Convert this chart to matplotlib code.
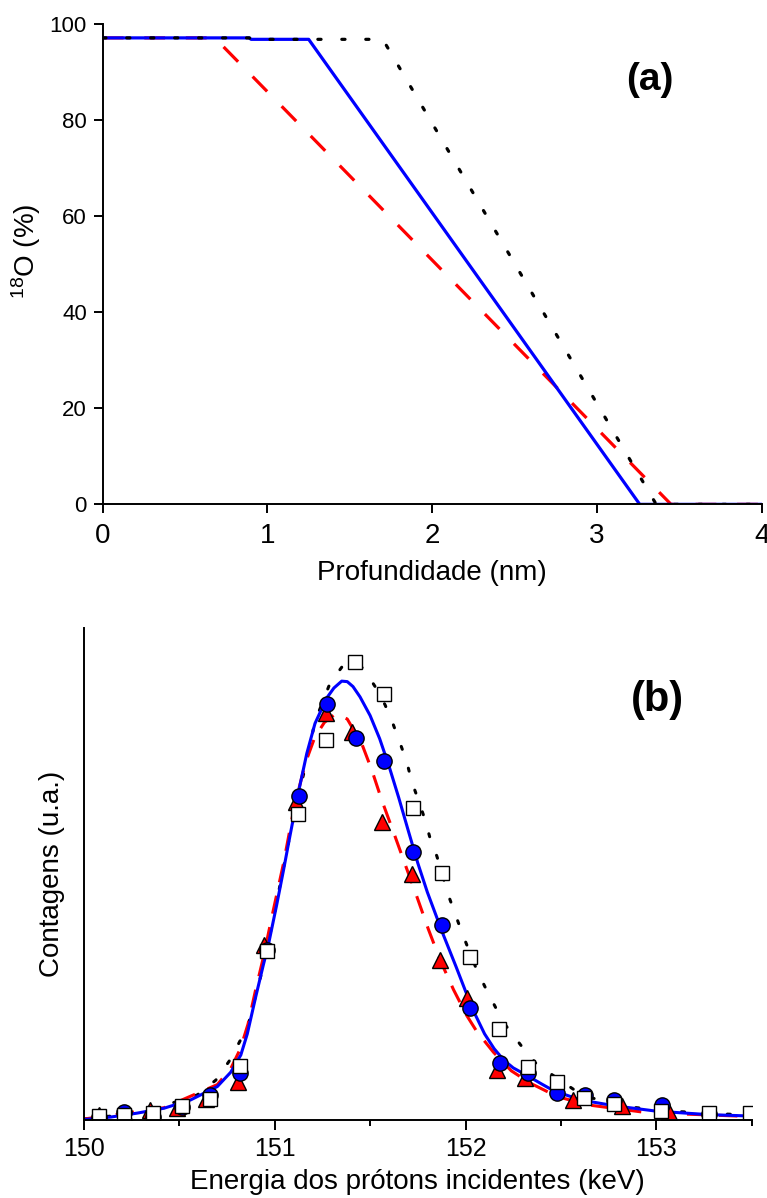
import matplotlib
matplotlib.use("Agg")
import matplotlib.pyplot as plt
from matplotlib.ticker import MultipleLocator, NullLocator

plt.rcParams['font.family'] = ['Liberation Sans', 'DejaVu Sans']
plt.rcParams['mathtext.fontset'] = 'custom'
plt.rcParams['mathtext.rm'] = 'Liberation Sans'

# ---- panel (a): 18O profiles ----
depth_solid = [0, 0.89, 0.90, 1.25, 3.26, 4.0]
o18_solid = [97.1, 97.1, 96.8, 96.8, 0, 0]

depth_dot = [0, 0.89, 0.90, 1.70, 3.36, 4.0]
o18_dot = [97.1, 97.1, 96.8, 96.8, 0, 0]

depth_dash = [0, 0.68, 3.45, 4.0]
o18_dash = [97.1, 97.1, 0, 0]

# ---- panel (b): excitation curves ----
fit_solid_x = [150.000, 150.140, 150.279, 150.420, 150.560, 150.699, 150.769, 150.822,
               150.856, 150.900, 150.940, 150.966, 151.010, 151.045, 151.080, 151.124,
               151.168, 151.211, 151.273, 151.310, 151.351, 151.380, 151.410, 151.447,
               151.500, 151.550, 151.600, 151.650, 151.700, 151.750, 151.800, 151.880,
               151.950, 152.000, 152.050, 152.100, 152.150, 152.200, 152.250, 152.320,
               152.400, 152.460, 152.600, 152.780, 153.000, 153.270, 153.500]
fit_solid_y = [0.001, 0.006, 0.014, 0.024, 0.041, 0.068, 0.097, 0.132,
               0.175, 0.250, 0.315, 0.355, 0.437, 0.506, 0.578, 0.666,
               0.745, 0.806, 0.858, 0.878, 0.892, 0.891, 0.881, 0.860,
               0.822, 0.775, 0.718, 0.655, 0.588, 0.522, 0.463, 0.380,
               0.312, 0.262, 0.215, 0.175, 0.145, 0.122, 0.106, 0.091,
               0.073, 0.060, 0.041, 0.029, 0.018, 0.011, 0.008]

fit_dash_x = [150.000, 150.420, 150.699, 150.770, 150.820, 150.860, 150.900, 150.940,
              150.990, 151.045, 151.100, 151.160, 151.210, 151.260, 151.320, 151.380,
              151.456, 151.509, 151.561, 151.631, 151.683, 151.745, 151.805, 151.867,
              151.937, 152.007, 152.059, 152.146, 152.240, 152.339, 152.479, 152.636,
              152.951, 153.500]
fit_dash_y = [0.002, 0.025, 0.072, 0.105, 0.145, 0.195, 0.265, 0.330,
              0.422, 0.520, 0.632, 0.725, 0.778, 0.808, 0.826, 0.815,
              0.765, 0.711, 0.650, 0.576, 0.520, 0.454, 0.388, 0.325,
              0.265, 0.212, 0.180, 0.138, 0.100, 0.075, 0.048, 0.031,
              0.015, 0.007]

fit_dot_x = [150.000, 150.306, 150.594, 150.691, 150.760, 150.813, 150.861, 150.887,
             150.913, 150.939, 151.002, 151.080, 151.124, 151.168, 151.211, 151.290,
             151.360, 151.410, 151.465, 151.526, 151.578, 151.622, 151.657, 151.692,
             151.718, 151.753, 151.788, 151.814, 151.850, 151.910, 151.945, 151.981,
             152.059, 152.108, 152.160, 152.215, 152.292, 152.374, 152.575, 152.671,
             152.872, 153.073, 153.370, 153.500]
fit_dot_y = [0.002, 0.015, 0.051, 0.081, 0.119, 0.157, 0.193, 0.234,
             0.272, 0.311, 0.427, 0.580, 0.657, 0.732, 0.810, 0.888,
             0.925, 0.929, 0.918, 0.881, 0.844, 0.803, 0.766, 0.728,
             0.688, 0.650, 0.610, 0.573, 0.536, 0.457, 0.420, 0.381,
             0.305, 0.266, 0.227, 0.190, 0.151, 0.113, 0.060, 0.044,
             0.026, 0.018, 0.012, 0.010]

tri_x = [150.080, 150.215, 150.346, 150.490, 150.640, 150.808, 150.944, 151.110,
         151.268, 151.405, 151.560, 151.717, 151.867, 152.010, 152.164, 152.313,
         152.566, 152.820, 153.069]
tri_y = [0.010, 0.012, 0.020, 0.025, 0.042, 0.078, 0.356, 0.647,
         0.828, 0.789, 0.606, 0.499, 0.325, 0.247, 0.102, 0.085,
         0.041, 0.028, 0.017]

circ_x = [150.079, 150.210, 150.364, 150.516, 150.661, 150.818, 150.960, 151.126,
          151.273, 151.426, 151.575, 151.727, 151.878, 152.024, 152.181, 152.325,
          152.479, 152.627, 152.776, 153.029, 153.274]
circ_y = [0.006, 0.017, 0.006, 0.027, 0.051, 0.095, 0.346, 0.659,
          0.846, 0.777, 0.730, 0.544, 0.396, 0.227, 0.115, 0.095,
          0.054, 0.051, 0.041, 0.030, 0.013]

sq_x = [150.079, 150.210, 150.364, 150.516, 150.661, 150.818, 150.958, 151.124,
        151.271, 151.421, 151.573, 151.725, 151.877, 152.021, 152.178, 152.325,
        152.479, 152.622, 152.776, 153.024, 153.274, 153.490]
sq_y = [0.008, 0.010, 0.015, 0.028, 0.042, 0.110, 0.344, 0.622,
        0.772, 0.931, 0.866, 0.635, 0.503, 0.332, 0.185, 0.108,
        0.078, 0.044, 0.033, 0.019, 0.015, 0.014]

fig = plt.figure(figsize=(7.67, 11.98), dpi=100)

# panel (a)
ax1 = fig.add_axes([0.134, 0.579, 0.859, 0.401])
ax1.plot(depth_dash, o18_dash, color='#ff0000', lw=2.3, dashes=(6.5, 6.5))
ax1.plot(depth_solid, o18_solid, color='#0000ff', lw=2.3)
ax1.plot(depth_dot, o18_dot, color='black', lw=2.3, dashes=(1, 6.5), dash_capstyle='round')
ax1.set_xlim(0, 4)
ax1.set_ylim(0, 100)
ax1.xaxis.set_major_locator(MultipleLocator(1))
ax1.yaxis.set_major_locator(MultipleLocator(20))
ax1.spines['top'].set_visible(False)
ax1.spines['right'].set_visible(False)
for s in ['left', 'bottom']:
    ax1.spines[s].set_linewidth(1.4)
ax1.tick_params(direction='out', length=6.5, width=1.4, labelsize=16, pad=5)
ax1.tick_params(axis='x', labelsize=20, pad=7)
ax1.set_xlabel('Profundidade (nm)', fontsize=20, labelpad=8)
ax1.set_ylabel(r'$\mathregular{^{18}}$O (%)', fontsize=20)
ax1.yaxis.set_label_coords(-0.091, 0.527)
ax1.text(3.32, 88.3, '(a)', fontsize=28, fontweight='bold', ha='center', va='center')

# panel (b)
ax2 = fig.add_axes([0.1095, 0.0651, 0.8705, 0.4107])
ax2.plot(fit_dot_x, fit_dot_y, color='black', lw=2.2, dashes=(1, 6.5), dash_capstyle='round')
ax2.plot(fit_dash_x, fit_dash_y, color='#ff0000', lw=2.2, dashes=(6, 4.5))
ax2.plot(fit_solid_x, fit_solid_y, color='#0000ff', lw=2.2)
ax2.plot(tri_x, tri_y, ls='none', marker='^', ms=12, mfc='#ff0000', mec='black', mew=1.0)
ax2.plot(circ_x, circ_y, ls='none', marker='o', ms=11, mfc='#0000ff', mec='black', mew=1.0)
ax2.plot(sq_x, sq_y, ls='none', marker='s', ms=9.5, mfc='white', mec='black', mew=1.0)
ax2.set_xlim(150, 153.5)
ax2.set_ylim(0, 1)
ax2.xaxis.set_major_locator(MultipleLocator(1))
ax2.xaxis.set_minor_locator(MultipleLocator(0.5))
ax2.yaxis.set_major_locator(NullLocator())
ax2.spines['top'].set_visible(False)
ax2.spines['right'].set_visible(False)
for s in ['left', 'bottom']:
    ax2.spines[s].set_linewidth(1.4)
ax2.tick_params(axis='x', which='major', direction='out', length=7, width=1.4, labelsize=18, pad=5)
ax2.tick_params(axis='x', which='minor', direction='out', length=4.5, width=1.4)
ax2.set_xlabel('Energia dos prótons incidentes (keV)', fontsize=20, labelpad=6)
ax2.set_ylabel('Contagens (u.a.)', fontsize=20, labelpad=14)
ax2.text(153.005, 0.854, '(b)', fontsize=30, fontweight='bold', ha='center', va='center')

fig.savefig('out.png', dpi=100)
